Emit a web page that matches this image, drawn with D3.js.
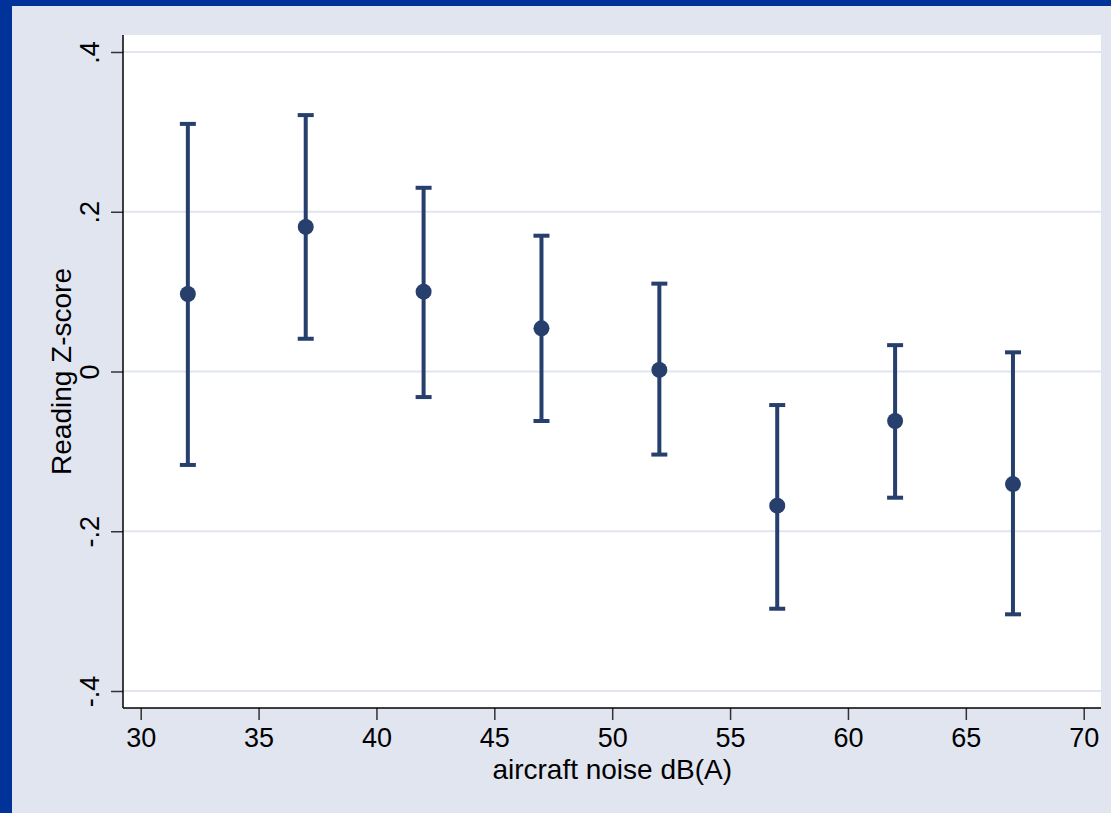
<!DOCTYPE html>
<html>
<head>
<meta charset="utf-8">
<script src="https://cdn.jsdelivr.net/npm/d3@7/dist/d3.min.js"></script>
<style>
  html, body { margin: 0; padding: 0; background: #e0e5f0; }
  svg { display: block; }
  text { font-family: "Liberation Sans", Arial, sans-serif; }
</style>
</head>
<body>
<svg id="chart" width="1111" height="813"></svg>
<script>
const noiseLevels = [32, 37, 42, 47, 52, 57, 62, 67];
const meanZ  = [0.097, 0.181, 0.100, 0.054, 0.002, -0.168, -0.062, -0.141];
const upperZ = [0.310, 0.321, 0.230, 0.170, 0.110, -0.042, 0.033, 0.024];
const lowerZ = [-0.117, 0.041, -0.032, -0.062, -0.104, -0.297, -0.158, -0.304];
const xTicks = [30, 35, 40, 45, 50, 55, 60, 65, 70];
const yTicks = [-0.4, -0.2, 0, 0.2, 0.4];
const yTickLabels = ["-.4", "-.2", "0", ".2", ".4"];
const xTitle = "aircraft noise dB(A)";
const yTitle = "Reading Z-score";

const svg = d3.select("#chart");
const W = 1111, H = 813;
const bg = "#e0e5f0", border = "#003399", ink = "#263f6c";

svg.append("rect").attr("width", W).attr("height", H).attr("fill", bg);
svg.append("rect").attr("x", 0).attr("y", 0).attr("width", W).attr("height", 6).attr("fill", border);
svg.append("rect").attr("x", 0).attr("y", 0).attr("width", 12).attr("height", H).attr("fill", border);

const plot = {left: 123, right: 1101, top: 35, bottom: 708};
svg.append("rect").attr("x", plot.left).attr("y", plot.top)
  .attr("width", plot.right - plot.left).attr("height", plot.bottom - plot.top)
  .attr("fill", "#ffffff");

const x = d3.scaleLinear().domain([30, 70]).range([140.7, 1083.7]);
const y = d3.scaleLinear().domain([-0.4, 0.4]).range([691, 52]);

// gridlines
svg.append("g").selectAll("line").data(yTicks).join("line")
  .attr("x1", plot.left).attr("x2", plot.right)
  .attr("y1", d => y(d)).attr("y2", d => y(d))
  .attr("stroke", "#e0e5f0").attr("stroke-width", 2.2);

// x axis
const xAxis = svg.append("g").attr("transform", `translate(0,${plot.bottom})`)
  .call(d3.axisBottom(x).tickValues(xTicks).tickSize(12).tickSizeOuter(0).tickPadding(8).tickFormat(d3.format("d")));
xAxis.select(".domain").remove();
xAxis.selectAll(".tick line").attr("stroke", "#333").attr("stroke-width", 1.5);
xAxis.selectAll(".tick text").attr("font-size", 27).attr("fill", "#000")
  .attr("font-family", "'Liberation Sans', Arial, sans-serif");
svg.append("line").attr("x1", plot.left).attr("x2", plot.right)
  .attr("y1", plot.bottom).attr("y2", plot.bottom).attr("stroke", "#000").attr("stroke-width", 1.5);

// y axis
const yAxis = svg.append("g").attr("transform", `translate(${plot.left},0)`)
  .call(d3.axisLeft(y).tickValues(yTicks).tickSize(12).tickSizeOuter(0).tickFormat((d, i) => yTickLabels[i]));
yAxis.select(".domain").remove();
yAxis.selectAll(".tick line").attr("stroke", "#333").attr("stroke-width", 1.5);
yAxis.selectAll(".tick text")
  .attr("font-size", 27).attr("fill", "#000")
  .attr("font-family", "'Liberation Sans', Arial, sans-serif")
  .attr("x", null).attr("dy", null)
  .attr("text-anchor", "middle")
  .attr("transform", "translate(-24,0) rotate(-90)");
svg.append("line").attr("x1", plot.left).attr("x2", plot.left)
  .attr("y1", plot.top).attr("y2", plot.bottom).attr("stroke", "#000").attr("stroke-width", 1.5);

// titles
svg.append("text").attr("x", (140.7 + 1083.7) / 2).attr("y", 779)
  .attr("text-anchor", "middle").attr("font-size", 28).attr("fill", "#000").text(xTitle);
svg.append("text").attr("transform", `translate(71,${y(0)}) rotate(-90)`)
  .attr("text-anchor", "middle").attr("font-size", 28).attr("fill", "#000").text(yTitle);

// error bars
const data = noiseLevels.map((n, i) => ({n, m: meanZ[i], lo: lowerZ[i], hi: upperZ[i]}));
const g = svg.append("g");
g.selectAll("line.bar").data(data).join("line").attr("class", "bar")
  .attr("x1", d => x(d.n)).attr("x2", d => x(d.n))
  .attr("y1", d => y(d.hi)).attr("y2", d => y(d.lo))
  .attr("stroke", ink).attr("stroke-width", 4);
g.selectAll("line.capTop").data(data).join("line").attr("class", "capTop")
  .attr("x1", d => x(d.n) - 8).attr("x2", d => x(d.n) + 8)
  .attr("y1", d => y(d.hi)).attr("y2", d => y(d.hi))
  .attr("stroke", ink).attr("stroke-width", 4);
g.selectAll("line.capBot").data(data).join("line").attr("class", "capBot")
  .attr("x1", d => x(d.n) - 8).attr("x2", d => x(d.n) + 8)
  .attr("y1", d => y(d.lo)).attr("y2", d => y(d.lo))
  .attr("stroke", ink).attr("stroke-width", 4);
g.selectAll("circle").data(data).join("circle")
  .attr("cx", d => x(d.n)).attr("cy", d => y(d.m)).attr("r", 8)
  .attr("fill", ink);
</script>
</body>
</html>
